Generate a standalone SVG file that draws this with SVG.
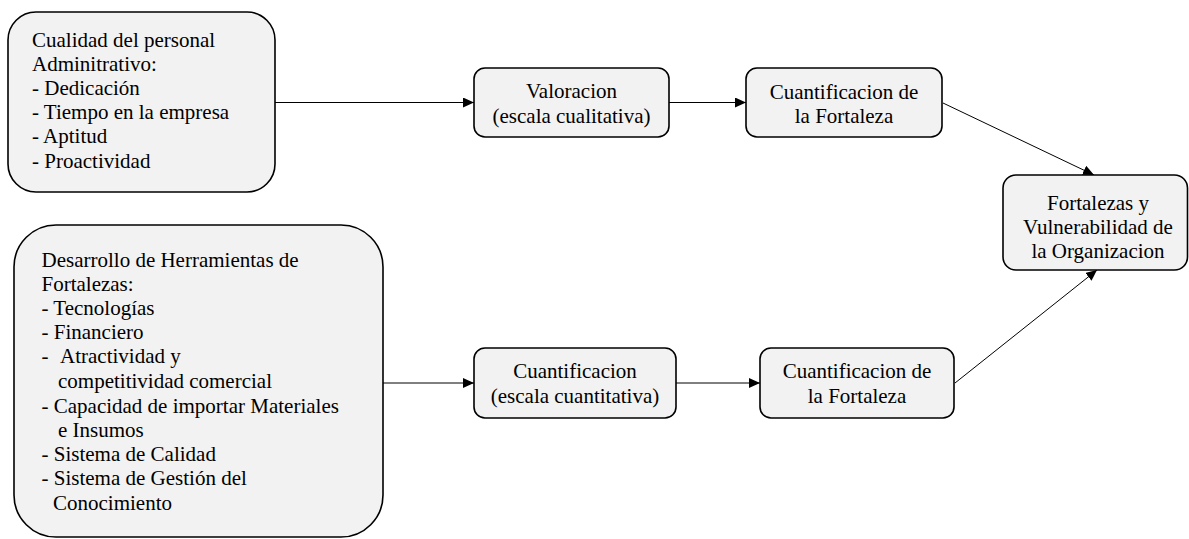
<svg xmlns="http://www.w3.org/2000/svg" width="1189" height="539" viewBox="0 0 1189 539">
<style>
.box{fill:#f2f2f2;stroke:#000;stroke-width:1.6}
.lbl{font-family:'Liberation Serif',serif;font-size:21px;fill:#000}
.c{text-anchor:middle}
.ln{stroke:#000;stroke-width:1;fill:none;marker-end:url(#ah)}
</style>
<defs>
<marker id="ah" markerWidth="12" markerHeight="10" refX="11" refY="5" orient="auto" markerUnits="userSpaceOnUse">
<path d="M0,0 L11,5 L0,10 Z" fill="#000"/>
</marker>
</defs>
<rect width="1189" height="539" fill="#fff"/>
<g id="connectors">
<line class="ln" x1="275" y1="102.5" x2="474" y2="102.5"/>
<line class="ln" x1="383" y1="383" x2="474" y2="383"/>
<line class="ln" x1="669" y1="102.5" x2="746" y2="102.5"/>
<line class="ln" x1="676" y1="383" x2="760" y2="383"/>
<line class="ln" x1="943" y1="103" x2="1094" y2="175"/>
<line class="ln" x1="955" y1="383" x2="1097" y2="270"/>
</g>
<g id="n1">
<rect class="box" x="8" y="12" width="267" height="180" rx="28"/>
<text class="lbl" x="32" y="47">Cualidad del personal</text>
<text class="lbl" x="32" y="71">Adminitrativo:</text>
<text class="lbl" x="32" y="95">- Dedicación</text>
<text class="lbl" x="32" y="119">- Tiempo en la empresa</text>
<text class="lbl" x="32" y="143">- Aptitud</text>
<text class="lbl" x="32" y="167.5">- Proactividad</text>
</g>
<g id="n2">
<rect class="box" x="14" y="225" width="369" height="312" rx="42"/>
<text class="lbl" x="41.5" y="267">Desarrollo de Herramientas de</text>
<text class="lbl" x="41.5" y="291">Fortalezas:</text>
<text class="lbl" x="41.5" y="315">- Tecnologías</text>
<text class="lbl" x="41.5" y="339">- Financiero</text>
<text class="lbl" x="41.5" y="363">-</text>
<text class="lbl" x="60" y="363">Atractividad y</text>
<text class="lbl" x="58" y="387.5">competitividad comercial</text>
<text class="lbl" x="41.5" y="412.5">- Capacidad de importar Materiales</text>
<text class="lbl" x="58" y="436.5">e Insumos</text>
<text class="lbl" x="41.5" y="460.5">- Sistema de Calidad</text>
<text class="lbl" x="41.5" y="485">- Sistema de Gestión del</text>
<text class="lbl" x="53" y="509.5">Conocimiento</text>
</g>
<g id="n3">
<rect class="box" x="474" y="68" width="195" height="69" rx="11"/>
<text class="lbl c" x="571.5" y="98">Valoracion</text>
<text class="lbl c" x="571.5" y="122.5">(escala cualitativa)</text>
</g>
<g id="n4">
<rect class="box" x="746" y="68" width="196" height="69" rx="11"/>
<text class="lbl c" x="844" y="98.5">Cuantificacion de</text>
<text class="lbl c" x="844" y="123">la Fortaleza</text>
</g>
<g id="n5">
<rect class="box" x="474" y="348" width="202" height="70" rx="11"/>
<text class="lbl c" x="575" y="378">Cuantificacion</text>
<text class="lbl c" x="575" y="402.5">(escala cuantitativa)</text>
</g>
<g id="n6">
<rect class="box" x="760" y="348" width="194" height="70" rx="11"/>
<text class="lbl c" x="857" y="378">Cuantificacion de</text>
<text class="lbl c" x="857" y="402.5">la Fortaleza</text>
</g>
<g id="n7">
<rect class="box" x="1003" y="175" width="184.5" height="95" rx="13"/>
<text class="lbl c" x="1098" y="210">Fortalezas y</text>
<text class="lbl c" x="1098" y="234">Vulnerabilidad de</text>
<text class="lbl c" x="1098" y="258">la Organizacion</text>
</g>
</svg>
